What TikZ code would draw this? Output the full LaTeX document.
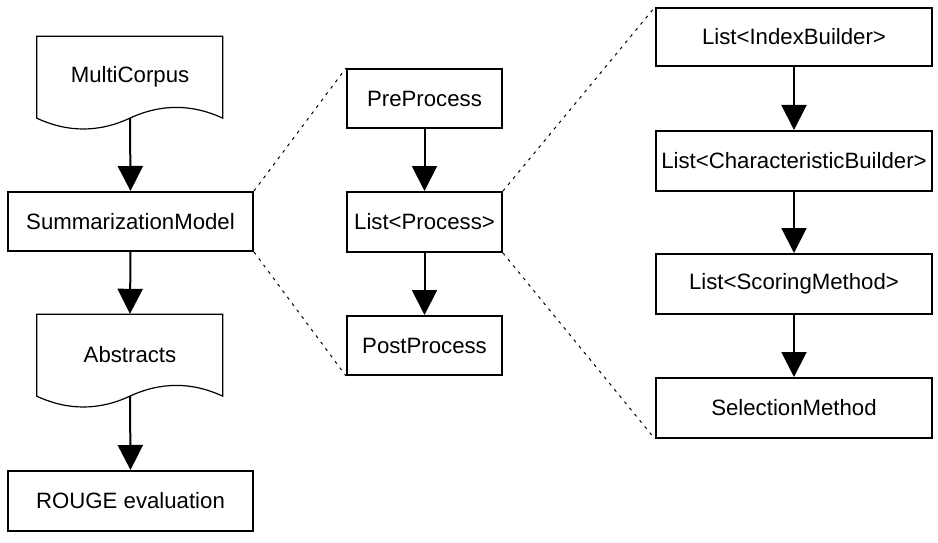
\documentclass[tikz,border=0pt]{standalone}
\usepackage{fontspec}
\setmainfont{Liberation Sans}
\usetikzlibrary{arrows.meta}
\begin{document}
\begin{tikzpicture}[x=1pt,y=-1pt,
  every node/.style={font=\fontsize{22.2}{26}\selectfont, inner sep=0pt},
  box/.style={draw, line width=2pt, rectangle},
  docnode/.style={rectangle, minimum width=186pt, minimum height=82pt},
  arr/.style={line width=2pt, -{Triangle[width=25pt,length=25pt]}},
  dots/.style={line width=1pt, dash pattern=on 3pt off 5pt}
]
\useasboundingbox (0,0) rectangle (938,543);
\newcommand{\docpath}[1]{%
  \draw[line width=1.2pt, shift={(#1.south west)}]
    (0,0) -- (0,-82) -- (186,-82) -- (186,0)
    .. controls (155,-14.4) and (124,-14.4) .. (93,0)
    .. controls (62,14.4) and (31,14.4) .. (0,0) -- cycle;}
% left column
\node[docnode] (mc) at (130,77) {MultiCorpus};
\docpath{mc}
\node[box, minimum width=245pt, minimum height=59pt] (sm) at (130.5,221.5) {SummarizationModel};
\node[docnode] (ab) at (130,355) {Abstracts};
\docpath{ab}
\node[box, minimum width=245pt, minimum height=60pt] (rg) at (130.5,501) {ROUGE evaluation};
% middle column
\node[box, minimum width=155pt, minimum height=59pt] (pre) at (424.5,98.5) {PreProcess};
\node[box, minimum width=155pt, minimum height=60pt] (lp) at (424.5,222) {List<Process>};
\node[box, minimum width=155pt, minimum height=59pt] (post) at (424.5,345.5) {PostProcess};
% right column
\node[box, minimum width=276pt, minimum height=58pt] (ib) at (794,37) {List<IndexBuilder>};
\node[box, minimum width=276pt, minimum height=60pt] (cb) at (794,161) {List<CharacteristicBuilder>};
\node[box, minimum width=276pt, minimum height=60pt] (sc) at (794,284) {List<ScoringMethod>};
\node[box, minimum width=276pt, minimum height=60pt] (sel) at (794,408) {SelectionMethod};
% arrows
\draw[arr] (mc.south) -- (sm.north);
\draw[arr] (sm.south) -- (ab.north);
\draw[arr] (ab.south) -- (rg.north);
\draw[arr] (pre.south) -- (lp.north);
\draw[arr] (lp.south) -- (post.north);
\draw[arr] (ib.south) -- (cb.north);
\draw[arr] (cb.south) -- (sc.north);
\draw[arr] (sc.south) -- (sel.north);
% dotted zoom lines
\draw[dots] (sm.north east) -- (pre.north west);
\draw[dots] (sm.south east) -- (post.south west);
\draw[dots] (lp.north east) -- (ib.north west);
\draw[dots] (lp.south east) -- (sel.south west);
\end{tikzpicture}
\end{document}
